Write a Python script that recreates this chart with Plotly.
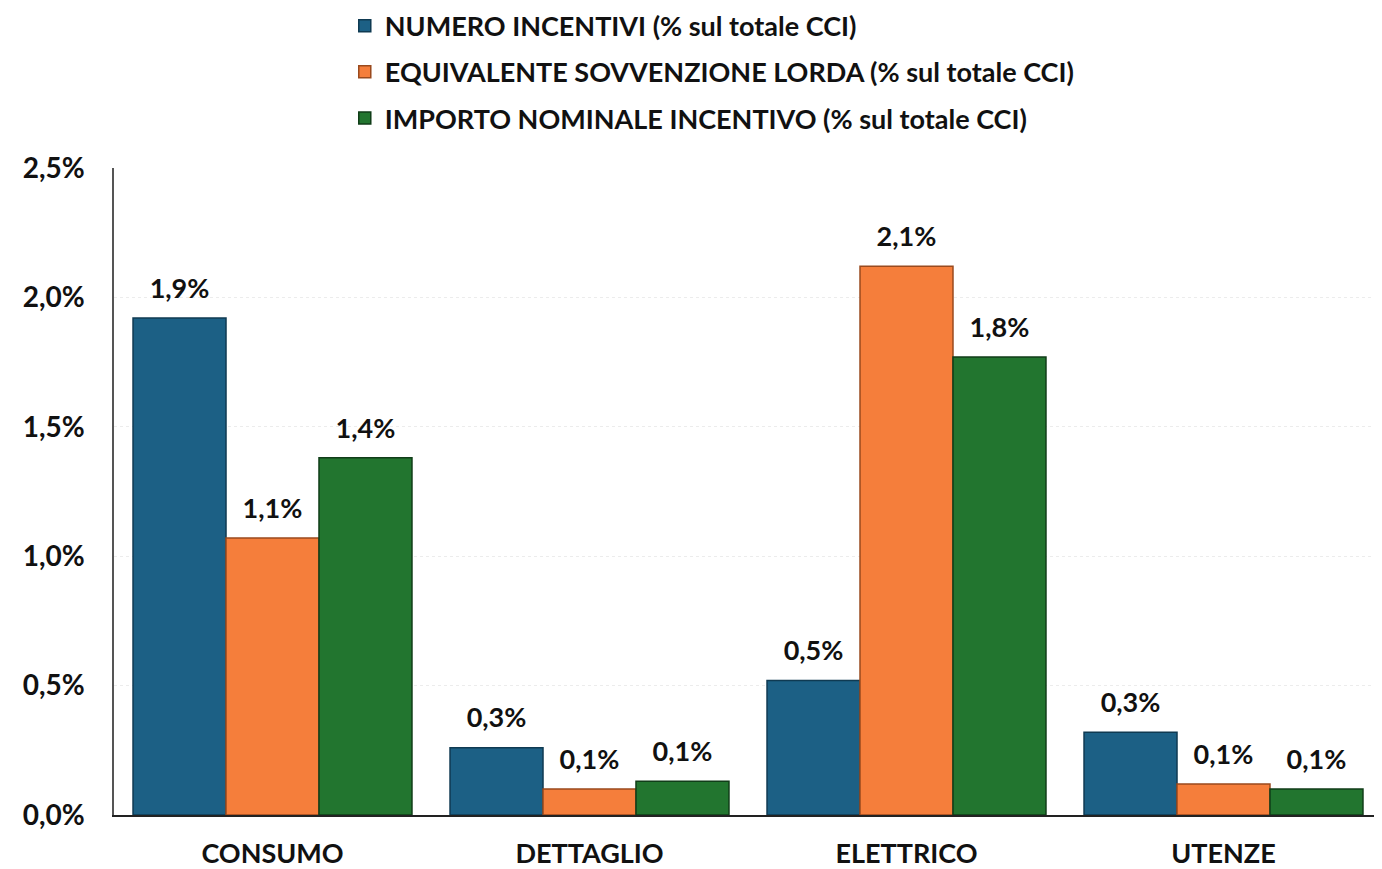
import plotly.graph_objects as go

categories = ["CONSUMO", "DETTAGLIO", "ELETTRICO", "UTENZE"]
series_names = [
    "NUMERO INCENTIVI (% sul totale CCI)",
    "EQUIVALENTE SOVVENZIONE LORDA (% sul totale CCI)",
    "IMPORTO NOMINALE INCENTIVO (% sul totale CCI)",
]
numero_incentivi = [0.0192, 0.0026, 0.0052, 0.0032]
equivalente_sovvenzione = [0.0107, 0.0010, 0.0212, 0.0012]
importo_nominale = [0.0138, 0.0013, 0.0177, 0.0010]
y_ticks = [0, 0.005, 0.01, 0.015, 0.02, 0.025]

colors = ["#1C6085", "#F57E3B", "#22752F"]
edge_colors = ["#0F3A52", "#9A4A1E", "#103D18"]
series_values = [numero_incentivi, equivalente_sovvenzione, importo_nominale]

FONT = "Lato, 'Open Sans', sans-serif"
GAP = 0.12

fig = go.Figure()
for i, (name, vals) in enumerate(zip(series_names, series_values)):
    fig.add_trace(go.Bar(
        x=categories, y=vals, name=name,
        legendgroup=f"g{i}",
        marker=dict(color=colors[i], line=dict(color=edge_colors[i], width=1.5)),
        hoverinfo="skip",
    ))
for i, vals in enumerate(series_values):
    fig.add_trace(go.Scatter(
        x=categories, y=vals, mode="markers+text",
        marker=dict(size=20, color="rgba(0,0,0,0)"),
        texttemplate="%{y:.1%}",
        textposition="top center",
        textfont=dict(size=27, color="#111111", family=FONT, weight="bold"),
        showlegend=False, cliponaxis=False, hoverinfo="skip",
    ))

fig.update_layout(
    width=1374, height=861,
    barmode="group", bargap=GAP, bargroupgap=0,
    scattermode="group", scattergap=GAP,
    separators=",.",
    paper_bgcolor="white", plot_bgcolor="white",
    margin=dict(l=106, r=0, t=160, b=54, autoexpand=False),
    font=dict(family=FONT, size=22, color="#111111"),
    legend=dict(
        orientation="v", x=0.182, xanchor="left", y=1.257, yanchor="top",
        xref="paper", yref="paper",
        font=dict(size=27, family=FONT, color="#111111", weight="bold"),
        tracegroupgap=8, itemwidth=30,
        bgcolor="rgba(0,0,0,0)",
    ),
    showlegend=True,
)

fig.update_xaxes(
    showline=True, linecolor="#222222", linewidth=2,
    tickfont=dict(size=27, family=FONT, color="#111111", weight="bold"),
    ticklabelstandoff=14, automargin=False,
)
fig.update_yaxes(
    range=[0, 0.025], tickvals=y_ticks,
    tickformat=".1%",
    showline=True, linecolor="#555555", linewidth=1.5,
    showgrid=True, gridcolor="#ECECEC", griddash="dot", gridwidth=1,
    zeroline=False,
    tickfont=dict(size=28, family=FONT, color="#111111", weight="bold"),
    ticklabelstandoff=22, automargin=False,
)

fig.write_html("out.html")
